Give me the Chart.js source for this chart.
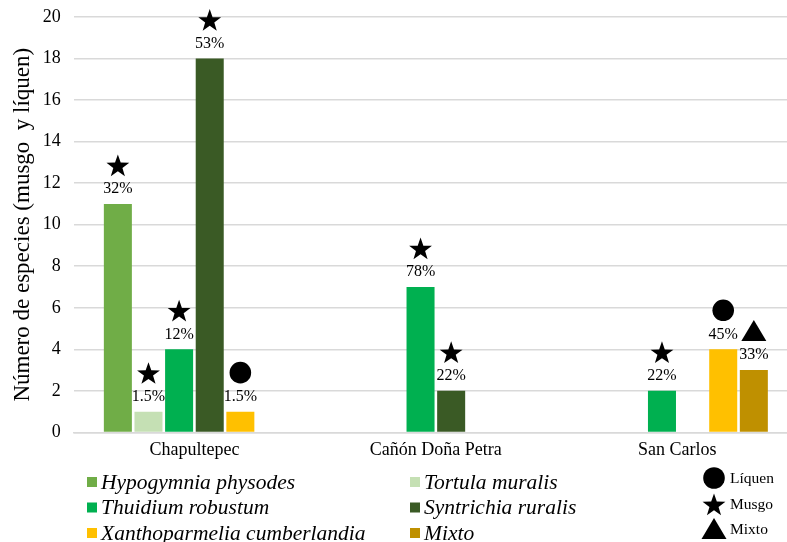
<!DOCTYPE html>
<html>
<head>
<meta charset="utf-8">
<script src="https://cdn.jsdelivr.net/npm/chart.js@4"></script>
<style>
  html, body { margin: 0; padding: 0; background: #fff; overflow: hidden; }
  #wrap { position: relative; width: 798px; height: 542px; }
</style>
</head>
<body>
<div id="wrap"><canvas id="chart"></canvas></div>
<script>
// Datos
const categories = ['Chapultepec', 'Cañón Doña Petra', 'San Carlos'];
const seriesNames = ['Hypogymnia physodes', 'Tortula muralis', 'Thuidium robustum',
                     'Syntrichia ruralis', 'Xanthoparmelia cumberlandia', 'Mixto'];
const seriesColors = ['#70AD47', '#C5E0B4', '#00B050', '#3A5A25', '#FFC000', '#BF9000'];

const hypogymnia = [11, 0, 0];
const tortula    = [1, 0, 0];
const thuidium   = [4, 7, 2];
const syntrichia = [18, 2, 0];
const xantho     = [1, 0, 4];
const mixto      = [0, 0, 3];

// Porcentajes encima de cada barra
const hypogymniaPct = ['32%', '', ''];
const tortulaPct    = ['1.5%', '', ''];
const thuidiumPct   = ['12%', '78%', '22%'];
const syntrichiaPct = ['53%', '22%', ''];
const xanthoPct     = ['1.5%', '', '45%'];
const mixtoPct      = ['', '', '33%'];

// Símbolo de cada serie: musgo = estrella, líquen = círculo, mixto = triángulo
const seriesSymbols = ['star', 'star', 'star', 'star', 'circle', 'triangle'];
const symbolLegend = [['circle', 'Líquen'], ['star', 'Musgo'], ['triangle', 'Mixto']];

const allValues = [hypogymnia, tortula, thuidium, syntrichia, xantho, mixto];
const allPct = [hypogymniaPct, tortulaPct, thuidiumPct, syntrichiaPct, xanthoPct, mixtoPct];

const serif = '"Liberation Serif", "Times New Roman", serif';

function drawSymbol(ctx, type, x, y) {
    ctx.save();
    ctx.fillStyle = '#000';
    ctx.beginPath();
    if (type === 'circle') {
        ctx.arc(x, y, 10.8, 0, Math.PI * 2);
    } else if (type === 'triangle') {
        ctx.moveTo(x, y - 11);
        ctx.lineTo(x + 12.5, y + 10);
        ctx.lineTo(x - 12.5, y + 10);
        ctx.closePath();
    } else {
        const outer = 12, inner = 4.8;
        for (let k = 0; k < 10; k++) {
            const r = k % 2 === 0 ? outer : inner;
            const a = -Math.PI / 2 + k * Math.PI / 5;
            const px = x + r * Math.cos(a), py = y + 1.5 + r * Math.sin(a);
            if (k === 0) ctx.moveTo(px, py); else ctx.lineTo(px, py);
        }
        ctx.closePath();
    }
    ctx.fill();
    ctx.restore();
}

// Etiquetas de porcentaje y símbolos sobre las barras
const barLabels = {
    id: 'barLabels',
    afterDatasetsDraw(chart) {
        const ctx = chart.ctx;
        ctx.save();
        ctx.font = '16px ' + serif;
        ctx.fillStyle = '#000';
        ctx.textAlign = 'center';
        ctx.textBaseline = 'middle';
        chart.data.datasets.forEach((ds, i) => {
            chart.getDatasetMeta(i).data.forEach((bar, j) => {
                const txt = allPct[i][j];
                if (!txt) return;
                ctx.fillText(txt, bar.x, bar.y - 15);
                drawSymbol(ctx, seriesSymbols[i], bar.x, bar.y - 39);
            });
        });
        ctx.restore();
    }
};

// Leyenda inferior en dos columnas + leyenda de símbolos
const customLegend = {
    id: 'customLegend',
    afterDraw(chart) {
        const ctx = chart.ctx;
        const colX = [87, 410];
        const rowY = [482, 507.5, 533];
        ctx.save();
        ctx.textBaseline = 'middle';
        ctx.textAlign = 'left';
        ctx.font = 'italic 21.5px ' + serif;
        chart.data.datasets.forEach((ds, i) => {
            const x = colX[i % 2], y = rowY[Math.floor(i / 2)];
            ctx.fillStyle = ds.backgroundColor;
            ctx.fillRect(x, y - 5, 10, 10);
            ctx.fillStyle = '#000';
            ctx.fillText(ds.label, x + 14, y + 1);
        });
        ctx.font = '15.5px ' + serif;
        const symY = [478, 504, 529];
        symbolLegend.forEach((s, k) => {
            drawSymbol(ctx, s[0], 714, symY[k]);
            ctx.fillText(s[1], 730, symY[k] + 1);
        });
        ctx.restore();
    }
};

new Chart(document.getElementById('chart').getContext('2d'), {
    type: 'bar',
    data: {
        labels: categories,
        datasets: allValues.map((vals, i) => ({
            label: seriesNames[i],
            data: vals,
            backgroundColor: seriesColors[i],
            borderWidth: 0,
            categoryPercentage: 0.761,
            barPercentage: 0.915
        }))
    },
    options: {
        responsive: true,
        maintainAspectRatio: false,
        animation: false,
        layout: { padding: { top: 17, bottom: 74, left: 9, right: 0 } },
        plugins: {
            legend: { display: false },
            tooltip: { enabled: false }
        },
        scales: {
            x: {
                grid: { display: false, drawTicks: false },
                border: { color: '#d9d9d9', width: 1.5 },
                ticks: { color: '#000', font: { family: serif, size: 18 }, padding: 7 }
            },
            y: {
                min: 0,
                max: 20,
                ticks: { stepSize: 2, color: '#000', font: { family: serif, size: 18 }, padding: 13 },
                grid: { color: '#d9d9d9', lineWidth: 1.5, drawTicks: false },
                border: { display: false },
                title: {
                    display: true,
                    text: 'Número de especies (musgo  y líquen)',
                    color: '#000',
                    font: { family: serif, size: 23 },
                    padding: { top: 0, bottom: 0 }
                },
                afterFit(scale) {
                    scale.width = 64.7;
                    scale.paddingTop = 0;
                    scale.paddingBottom = 0;
                }
            }
        }
    },
    plugins: [barLabels, customLegend]
});
</script>
</body>
</html>
